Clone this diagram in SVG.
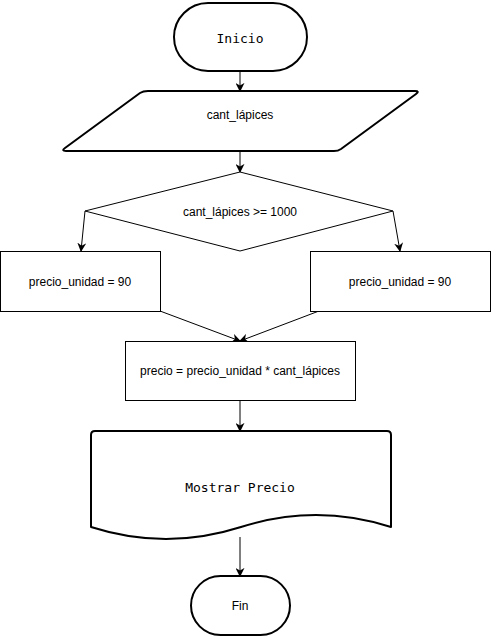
<svg xmlns="http://www.w3.org/2000/svg" width="491" height="637" viewBox="0 0 491 637">
<style>
.thick{fill:#fff;stroke:#000;stroke-width:2;stroke-linejoin:round}
.thin{fill:#fff;stroke:#000;stroke-width:1}
.t{font-family:"Liberation Sans",Arial,sans-serif;font-size:12px;text-anchor:middle;dominant-baseline:central;fill:#000}
.m{font-family:"DejaVu Sans Mono","Liberation Mono",monospace;font-size:13px;text-anchor:middle;dominant-baseline:central;fill:#000}
.c{fill:none;stroke:#000;stroke-width:1}
</style>
<defs>
<marker id="a" viewBox="0 0 10 10" refX="9" refY="5" markerWidth="9" markerHeight="9" markerUnits="userSpaceOnUse" orient="auto">
<path d="M0,0 L10,5 L0,10 L3,5 Z" fill="#000"/>
</marker>
</defs>
<g id="connectors">
<line class="c" x1="240" y1="71" x2="240" y2="91" marker-end="url(#a)"/>
<line class="c" x1="240" y1="151" x2="240" y2="172" marker-end="url(#a)"/>
<line class="c" x1="85" y1="211" x2="81" y2="251" marker-end="url(#a)"/>
<line class="c" x1="393" y1="211" x2="400" y2="251" marker-end="url(#a)"/>
<line class="c" x1="160" y1="311" x2="240" y2="341" marker-end="url(#a)"/>
<line class="c" x1="319" y1="311" x2="240" y2="341" marker-end="url(#a)"/>
<line class="c" x1="240" y1="400" x2="240" y2="431" marker-end="url(#a)"/>
<line class="c" x1="240" y1="537" x2="240" y2="576" marker-end="url(#a)"/>
</g>
<g id="inicio">
<rect class="thick" x="174" y="3" width="133" height="68" rx="34" ry="34"/>
<text class="m" x="240" y="38">Inicio</text>
</g>
<g id="entrada">
<path class="thick" d="M148,91 H415 Q420,91 416,94 L341,149 Q338,151 334,151 H66 Q61,151 65,148 L140,93 Q143,91 148,91 Z"/>
<text class="t" x="240" y="115">cant_lápices</text>
</g>
<g id="decision">
<path class="thin" d="M240,172 L393,211 L240,251 L85,211 Z"/>
<text class="t" x="240" y="212">cant_lápices &gt;= 1000</text>
</g>
<g id="izq">
<rect class="thin" x="0.5" y="251.5" width="160" height="60"/>
<text class="t" x="80" y="282">precio_unidad = 90</text>
</g>
<g id="der">
<rect class="thin" x="310.5" y="251.5" width="180" height="60"/>
<text class="t" x="400" y="282">precio_unidad = 90</text>
</g>
<g id="calculo">
<rect class="thin" x="125.5" y="341.5" width="230" height="59"/>
<text class="t" x="240" y="371">precio = precio_unidad * cant_lápices</text>
</g>
<g id="mostrar">
<path class="thick" d="M95,431 H387 Q391,431 391,435 V527 Q316,503 241,527 Q166,551 91,527 V435 Q91,431 95,431 Z"/>
<text class="m" x="240" y="487">Mostrar Precio</text>
</g>
<g id="fin">
<rect class="thick" x="191" y="576" width="99" height="59" rx="29.5" ry="29.5"/>
<text class="t" x="240" y="606">Fin</text>
</g>
</svg>
